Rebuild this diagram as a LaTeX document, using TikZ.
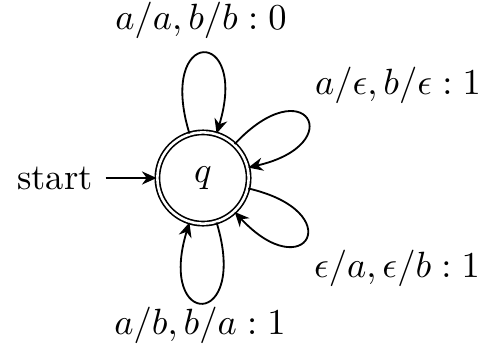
\documentclass[tikz,border=0pt]{standalone}
\usetikzlibrary{arrows.meta}
\begin{document}
\begin{tikzpicture}[x=0.274pt,y=0.274pt,line width=0.5pt,
  statenode/.style={circle,draw,minimum size=25pt,inner sep=0pt,double,double distance=0.7pt,line width=0.45pt},
  arr/.style={-{Stealth[length=4pt,width=3.6pt]}},
  lbl/.style={inner sep=0pt}]
\useasboundingbox (0,0) rectangle (491,352);
\node[statenode] (q) at (203,174) {$q$};
\node (start) at (55,174) {start};
\draw[arr] (start) -- (q);
\draw[arr] (q.107) .. controls +(107:112) and +(73:112) .. (q.73);
\draw[arr] (q.47) .. controls +(47:104) and +(13:104) .. (q.13);
\draw[arr] (q.-13) .. controls +(-13:104) and +(-47:104) .. (q.-47);
\draw[arr] (q.-73) .. controls +(-73:112) and +(-107:112) .. (q.-107);
\node[lbl] (l1) at (201,332) {$a/a, b/b : 0$};
\node[lbl] (l2) at (398,267) {$a/\epsilon, b/\epsilon : 1$};
\node[lbl] (l3) at (397,84) {$\epsilon/a, \epsilon/b : 1$};
\node[lbl] (l4) at (200,27) {$a/b, b/a : 1$};
\end{tikzpicture}
\end{document}
